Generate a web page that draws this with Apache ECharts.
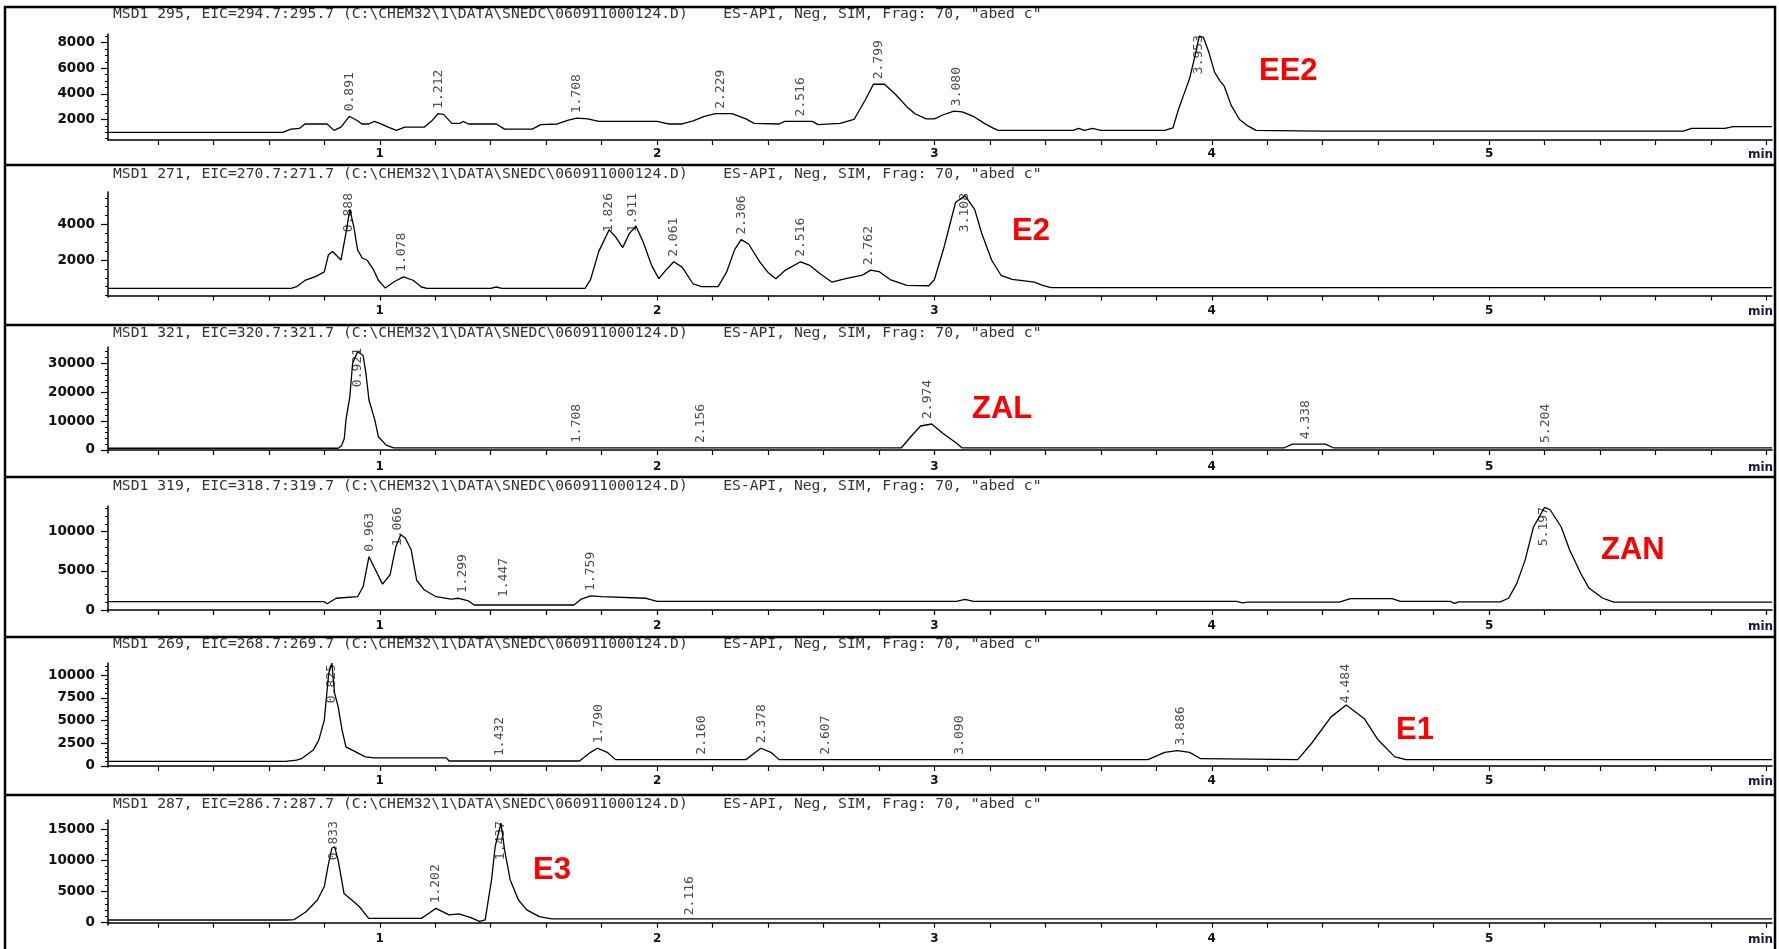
<!DOCTYPE html>
<html><head><meta charset="utf-8">
<script src="https://cdn.jsdelivr.net/npm/echarts@6/dist/echarts.min.js"></script>
<style>html,body{margin:0;padding:0;background:#fff}#c{width:1779px;height:949px}</style>
</head><body><div id="c"></div>
<script>
// ---------------- DATA ----------------
const panelTitles = [
  String.raw`MSD1 295, EIC=294.7:295.7 (C:\CHEM32\1\DATA\SNEDC\060911000124.D)    ES-API, Neg, SIM, Frag: 70, "abed c"`,
  String.raw`MSD1 271, EIC=270.7:271.7 (C:\CHEM32\1\DATA\SNEDC\060911000124.D)    ES-API, Neg, SIM, Frag: 70, "abed c"`,
  String.raw`MSD1 321, EIC=320.7:321.7 (C:\CHEM32\1\DATA\SNEDC\060911000124.D)    ES-API, Neg, SIM, Frag: 70, "abed c"`,
  String.raw`MSD1 319, EIC=318.7:319.7 (C:\CHEM32\1\DATA\SNEDC\060911000124.D)    ES-API, Neg, SIM, Frag: 70, "abed c"`,
  String.raw`MSD1 269, EIC=268.7:269.7 (C:\CHEM32\1\DATA\SNEDC\060911000124.D)    ES-API, Neg, SIM, Frag: 70, "abed c"`,
  String.raw`MSD1 287, EIC=286.7:287.7 (C:\CHEM32\1\DATA\SNEDC\060911000124.D)    ES-API, Neg, SIM, Frag: 70, "abed c"`
];
const compoundNames = ['EE2', 'E2', 'ZAL', 'ZAN', 'E1', 'E3'];
const xTickLabels = [1, 2, 3, 4, 5];

// EE2 (MSD1 295)
const ee2Time   = [0.02,0.65,0.68,0.71,0.73,0.81,0.835,0.86,0.89,0.92,0.935,0.96,0.98,1.0,1.03,1.06,1.09,1.16,1.19,1.21,1.23,1.26,1.29,1.30,1.32,1.42,1.45,1.55,1.58,1.64,1.68,1.71,1.75,1.79,2.0,2.04,2.09,2.13,2.17,2.21,2.27,2.32,2.35,2.44,2.46,2.56,2.58,2.66,2.71,2.75,2.78,2.82,2.86,2.90,2.93,2.97,3.0,3.03,3.07,3.10,3.14,3.18,3.21,3.23,3.50,3.52,3.54,3.57,3.60,3.83,3.86,3.88,3.90,3.92,3.94,3.955,3.97,3.99,4.01,4.03,4.045,4.07,4.10,4.13,4.16,4.39,5.70,5.73,5.85,5.88,6.02];
const ee2Signal = [1000,1000,1250,1300,1650,1650,1150,1400,2250,1900,1650,1650,1850,1700,1400,1150,1400,1400,1950,2450,2400,1700,1700,1850,1650,1650,1250,1250,1600,1650,1950,2100,2050,1850,1850,1650,1650,1900,2250,2450,2450,2050,1700,1650,1850,1850,1600,1700,2000,3500,4750,4750,3950,3000,2450,2050,2050,2350,2650,2600,2250,1700,1350,1150,1150,1300,1150,1300,1150,1150,1350,2800,4000,5200,7000,8500,8400,7200,5700,5000,4600,3100,2000,1500,1150,1100,1100,1300,1300,1450,1450];
const ee2PeakTimes  = [0.891,1.212,1.708,2.229,2.516,2.799,3.080,3.953];
const ee2PeakHeights= [2250,2450,2100,2450,1850,4750,2650,8500];
const ee2PeakLabels = ['0.891','1.212','1.708','2.229','2.516','2.799','3.080','3.953'];
const ee2YTicks = [2000,4000,6000,8000];

// E2 (MSD1 271)
const e2Time   = [0.02,0.68,0.70,0.73,0.77,0.80,0.815,0.83,0.86,0.878,0.892,0.906,0.92,0.937,0.954,0.975,0.995,1.02,1.05,1.085,1.12,1.15,1.17,1.40,1.42,1.44,1.74,1.76,1.79,1.827,1.85,1.876,1.90,1.924,1.95,1.98,2.006,2.03,2.06,2.09,2.13,2.16,2.22,2.25,2.28,2.303,2.33,2.37,2.40,2.428,2.46,2.517,2.55,2.59,2.63,2.68,2.74,2.77,2.80,2.84,2.90,2.98,3.0,3.035,3.076,3.11,3.145,3.17,3.206,3.24,3.28,3.36,3.39,3.42,6.02];
const e2Signal = [400,400,500,850,1080,1330,2300,2480,2000,3520,4850,3900,2570,2100,2000,1520,860,420,760,1050,860,480,400,400,480,400,400,900,2500,3700,3300,2700,3500,3900,3000,1700,950,1400,1900,1600,650,500,500,1300,2600,3150,2900,1900,1300,950,1400,1900,1700,1200,760,950,1150,1430,1350,900,570,550,900,2750,5240,5620,4850,3520,2000,1140,910,760,570,450,450];
const e2PeakTimes  = [0.888,1.078,1.826,1.911,2.061,2.306,2.516,2.762,3.108];
const e2PeakHeights= [4850,1050,3700,3900,1900,3150,1900,1430,5620];
const e2PeakLabels = ['0.888','1.078','1.826','1.911','2.061','2.306','2.516','2.762','3.108'];
const e2YTicks = [2000,4000];

// ZAL (MSD1 321)
const zalTime   = [0.02,0.85,0.862,0.872,0.878,0.892,0.902,0.92,0.94,0.95,0.961,0.982,0.995,1.023,1.05,2.88,2.92,2.95,2.99,3.03,3.08,3.10,4.26,4.29,4.41,4.44,6.02];
const zalSignal = [600,600,1500,4000,10400,18400,30000,34000,32700,26500,17300,10400,4600,1700,700,700,5200,8300,9000,5800,2300,700,700,2000,2000,700,700];
const zalPeakTimes  = [0.921,1.708,2.156,2.974,4.338,5.204];
const zalPeakHeights= [34000,700,700,9000,2000,700];
const zalPeakLabels = ['0.921','1.708','2.156','2.974','4.338','5.204'];
const zalYTicks = [0,10000,20000,30000];

// ZAN (MSD1 319)
const zanTime   = [0.02,0.80,0.81,0.843,0.92,0.94,0.961,0.982,1.01,1.037,1.058,1.076,1.092,1.113,1.133,1.161,1.203,1.257,1.285,1.32,1.34,1.70,1.727,1.76,1.80,1.96,2.0,3.08,3.11,3.14,4.09,4.11,4.13,4.46,4.50,4.65,4.68,4.86,4.875,4.89,5.04,5.07,5.10,5.13,5.16,5.20,5.22,5.26,5.29,5.33,5.36,5.41,5.45,6.02];
const zanSignal = [1060,1060,800,1500,1700,3000,6800,5300,3300,4500,8100,9600,9200,7700,3800,2550,1700,1400,1500,1150,640,640,1400,1800,1700,1500,1100,1100,1350,1100,1100,900,1000,1000,1450,1450,1100,1100,850,1050,1050,1500,3400,6400,10600,13100,12800,10600,7700,4700,2800,1500,1000,1000];
const zanPeakTimes  = [0.963,1.066,1.299,1.447,1.759,5.197];
const zanPeakHeights= [6800,9600,1500,1000,1800,13100];
const zanPeakLabels = ['0.963','1.066','1.299','1.447','1.759','5.197'];
const zanYTicks = [0,5000,10000];

// E1 (MSD1 269)
const e1Time   = [0.02,0.66,0.70,0.72,0.76,0.78,0.80,0.809,0.816,0.827,0.837,0.85,0.864,0.878,0.913,0.948,0.98,1.24,1.25,1.72,1.76,1.785,1.82,1.85,2.32,2.35,2.374,2.41,2.44,3.77,3.83,3.875,3.92,3.96,4.31,4.36,4.43,4.485,4.55,4.60,4.66,4.70,6.02];
const e1Signal = [500,500,650,850,1750,2850,5050,8000,10200,11300,8000,6500,3950,2100,1550,1000,900,900,550,550,1500,1950,1500,700,700,1400,1950,1500,700,700,1500,1700,1500,800,700,2500,5400,6700,5200,2850,1000,700,700];
const e1PeakTimes  = [0.825,1.432,1.790,2.160,2.378,2.607,3.090,3.886,4.484];
const e1PeakHeights= [11300,550,1950,700,1950,700,700,1700,6700];
const e1PeakLabels = ['0.825','1.432','1.790','2.160','2.378','2.607','3.090','3.886','4.484'];
const e1YTicks = [0,2500,5000,7500,10000];

// E3 (MSD1 287)
const e3Time   = [0.02,0.665,0.692,0.734,0.775,0.80,0.813,0.827,0.837,0.85,0.871,0.899,0.926,0.96,1.15,1.18,1.202,1.25,1.285,1.326,1.36,1.38,1.403,1.416,1.437,1.45,1.47,1.50,1.53,1.575,1.62,6.02];
const e3Signal = [430,430,500,1770,3650,5800,9000,11950,12200,10000,4700,3650,2600,700,700,1600,2300,1250,1400,860,200,450,6900,12200,16000,11700,6900,3650,2050,970,600,600];
const e3PeakTimes  = [0.833,1.202,1.437,2.116];
const e3PeakHeights= [12200,2300,16000,400];
const e3PeakLabels = ['0.833','1.202','1.437','2.116'];
const e3YTicks = [0,5000,10000,15000];

// ---------------- LAYOUT / STYLE ----------------
const panels = [
  {time: ee2Time, signal: ee2Signal, pt: ee2PeakTimes, ph: ee2PeakHeights, pl: ee2PeakLabels, yt: ee2YTicks},
  {time: e2Time,  signal: e2Signal,  pt: e2PeakTimes,  ph: e2PeakHeights,  pl: e2PeakLabels,  yt: e2YTicks},
  {time: zalTime, signal: zalSignal, pt: zalPeakTimes, ph: zalPeakHeights, pl: zalPeakLabels, yt: zalYTicks},
  {time: zanTime, signal: zanSignal, pt: zanPeakTimes, ph: zanPeakHeights, pl: zanPeakLabels, yt: zanYTicks},
  {time: e1Time,  signal: e1Signal,  pt: e1PeakTimes,  ph: e1PeakHeights,  pl: e1PeakLabels,  yt: e1YTicks},
  {time: e3Time,  signal: e3Signal,  pt: e3PeakTimes,  ph: e3PeakHeights,  pl: e3PeakLabels,  yt: e3YTicks}
];
const layout = [
  {top: 34,  axis: 140, min: 400,   max: 8670,  minor: 500,  titleY: 15,  nx: 1259, ny: 72},
  {top: 192, axis: 297, min: -83,   max: 5830,  minor: 500,  titleY: 175, nx: 1012, ny: 232},
  {top: 347, axis: 453, min: -1040, max: 35640, minor: 2000, titleY: 334, nx: 972,  ny: 410},
  {top: 506, axis: 612, min: -255,  max: 13280, minor: 1000, titleY: 487, nx: 1601, ny: 551},
  {top: 663, axis: 767, min: -110,  max: 11320, minor: 500,  titleY: 645, nx: 1396, ny: 731},
  {top: 820, axis: 925, min: -370,  max: 16490, minor: 1000, titleY: 805, nx: 533,  ny: 871}
];
const separators = [165, 325, 477, 637, 795];
const X_MIN = 0.02, X_MAX = 6.02;
const LABEL_FONT = '13px "DejaVu Sans Mono"';

const mctx = document.createElement('canvas').getContext('2d');
mctx.font = LABEL_FONT;
function textLen(s){ return mctx.measureText(s).width; }

const xMinorTicks = [];
for (let k = 1; k <= 30; k++) xMinorTicks.push(+(k * 0.2).toFixed(2));

const grid = [], xAxis = [], yAxis = [], series = [], graphic = [];
panels.forEach((p, i) => {
  const L = layout[i];
  const h = L.axis - L.top;
  grid.push({left: 108, right: 7, top: L.top, height: h});
  xAxis.push({
    gridIndex: i, type: 'value', min: X_MIN, max: X_MAX,
    axisLine: {show: true, lineStyle: {color: '#000', width: 1.5}},
    axisTick: {show: true, customValues: xMinorTicks, length: 5, lineStyle: {color: '#000', width: 1.2}},
    axisLabel: {show: true, customValues: xTickLabels, margin: 8, color: '#111',
                fontFamily: 'DejaVu Sans', fontWeight: 'bold', fontSize: 12,
                formatter: (v) => String(v)},
    splitLine: {show: false}
  });
  const minorVals = [];
  for (let v = Math.ceil(L.min / L.minor) * L.minor; v <= L.max; v += L.minor) minorVals.push(v);
  yAxis.push({
    gridIndex: i, type: 'value', min: L.min, max: L.max, position: 'left',
    axisLine: {show: true, lineStyle: {color: '#000', width: 1.5}},
    axisTick: {show: true, customValues: minorVals, length: 3, lineStyle: {color: '#000', width: 1}},
    axisLabel: {show: true, customValues: p.yt, margin: 13, color: '#111',
                fontFamily: 'DejaVu Sans', fontWeight: 'bold', fontSize: 13.5,
                formatter: (v) => String(v)},
    splitLine: {show: false}
  });
  const majorAxisIndex = yAxis.length;
  yAxis.push({
    gridIndex: i, type: 'value', min: L.min, max: L.max, position: 'left',
    axisLine: {show: false},
    axisTick: {show: true, customValues: p.yt, length: 7, lineStyle: {color: '#000', width: 1.2}},
    axisLabel: {show: false}, splitLine: {show: false}
  });
  series.push({
    type: 'line', xAxisIndex: i, yAxisIndex: majorAxisIndex - 1,
    data: p.time.map((t, k) => [t, p.signal[k]]),
    showSymbol: false, symbol: 'none', smooth: false,
    lineStyle: {color: '#000', width: 1.3}, animation: false, silent: true
  });
  const vPerPx = (L.max - L.min) / h;
  series.push({
    type: 'scatter', xAxisIndex: i, yAxisIndex: majorAxisIndex - 1,
    symbolSize: 0, animation: false, silent: true,
    data: p.pt.map((t, k) => {
      const cap = L.max - (textLen(p.pl[k]) + 6) * vPerPx;
      return [t, Math.min(p.ph[k], cap), p.pl[k]];
    }),
    label: {
      show: true, position: 'top', distance: 5, rotate: 90, align: 'left', verticalAlign: 'middle',
      formatter: (q) => q.data[2],
      fontFamily: 'DejaVu Sans Mono', fontSize: 13, color: '#222'
    }
  });
  graphic.push({
    type: 'text', left: 113, top: L.titleY - 8, silent: true,
    style: {text: panelTitles[i], font: '14.7px "DejaVu Sans Mono"', fill: '#333'}
  });
  graphic.push({
    type: 'text', left: 1748, top: L.axis + 9, silent: true,
    style: {text: 'min', font: 'bold 12px "DejaVu Sans"', fill: '#1a1a40'}
  });
  graphic.push({
    type: 'text', left: L.nx, top: L.ny - 16, silent: true,
    style: {text: compoundNames[i], font: 'bold 31px "Liberation Sans"', fill: '#ff0000'}
  });
});

// frame and panel separators
graphic.push({type: 'rect', silent: true, shape: {x: 5, y: 7, width: 1770, height: 960},
  style: {fill: 'none', stroke: '#000', lineWidth: 2.5}});
separators.forEach(y => graphic.push({type: 'line', silent: true,
  shape: {x1: 5, y1: y, x2: 1775, y2: y}, style: {stroke: '#000', lineWidth: 2.5}}));

const chart = echarts.init(document.getElementById('c'), null, {renderer: 'canvas'});
chart.setOption({
  backgroundColor: '#fff', animation: false,
  grid, xAxis, yAxis, series, graphic
});
</script></body></html>
